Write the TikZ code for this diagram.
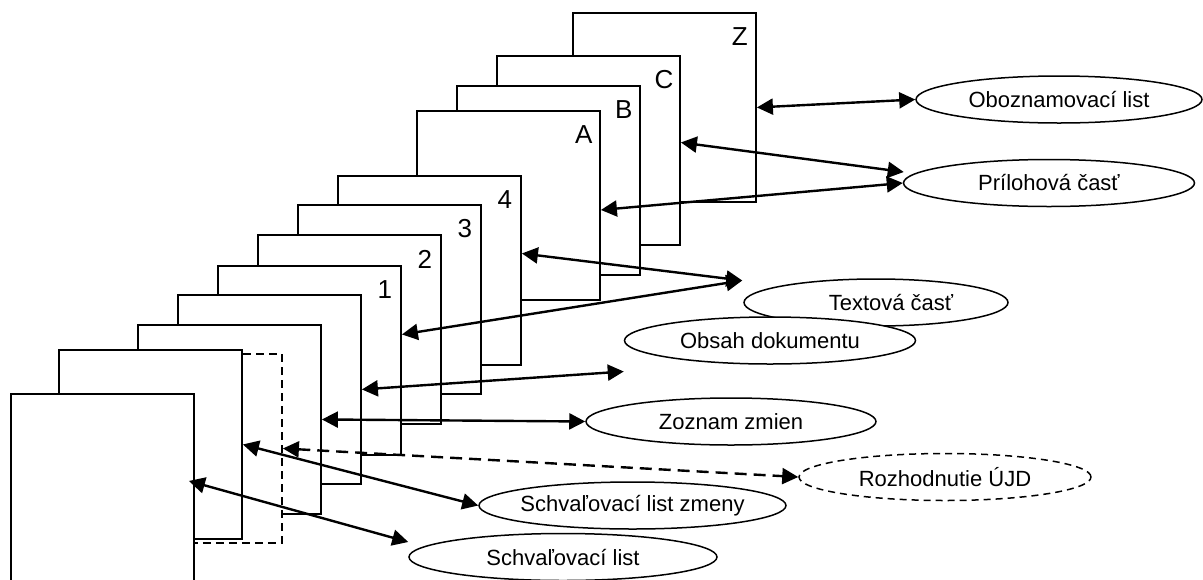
\documentclass[tikz,border=0pt]{standalone}
\usepackage{fontspec}
\setmainfont{Liberation Sans}
\usetikzlibrary{arrows.meta,shapes.geometric}
\tikzset{
  strana/.style={draw, fill=white, line width=1.9pt, minimum width=183pt, minimum height=189pt, inner sep=0pt, anchor=north west},
  cislo/.style={font=\fontsize{26}{30}\selectfont, inner sep=0pt},
  bublina/.style={draw, ellipse, fill=white, line width=1.5pt, inner sep=0pt, minimum height=47pt, font=\fontsize{22}{26}\selectfont},
  spoj/.style={<->, line width=2.4pt},
}
\begin{document}
\begin{tikzpicture}[x=1pt, y=-1pt, >={Triangle[length=16pt,width=16pt]}]
  \useasboundingbox (0,0) rectangle (1203,579);
  % listy dokumentu, od zadu dopredu
  \foreach \n/\x/\y in {Z/572/12, C/496/55, B/456/85, A/416/110, 4/337/175, 3/297/204, 2/257/234, 1/217/265} {
    \node[strana] (p\n) at (\x,\y) {};
    \node[cislo] (c\n) at ([shift={(-17,25)}]p\n.north east) {\n};
  }
  \node[strana] (pobs) at (177,294) {};
  \node[strana] (pzoz) at (137,324) {};
  \node[strana, dash pattern=on 8pt off 5pt] (proz) at (98,353) {};
  \node[strana] (pslz) at (58,349) {};
  \node[strana] (psl) at (10,393) {};
  % popisy
  \node[bublina, minimum width=286pt] (obl) at (1059,99.5) {Oboznamovací list};
  \node[bublina, minimum width=291pt] (pri) at (1049,183) {Prílohová časť};
  \node[bublina, minimum width=264pt] (txt) at (876,302.5) {\hspace{30pt}Textová časť};
  \node[bublina, minimum width=291pt] (obs) at (770,340.5) {Obsah dokumentu};
  \node[bublina, minimum width=290pt] (zoz) at (731,421.5) {Zoznam zmien};
  \node[bublina, minimum width=292pt, dash pattern=on 7pt off 5pt] (roz) at (945,477) {Rozhodnutie ÚJD};
  \node[bublina, minimum width=307pt] (slz) at (632.5,505.5) {\makebox[0pt]{Schvaľovací list zmeny}};
  \node[bublina, minimum width=308pt] (sl) at (563,557) {Schvaľovací list};
  \coordinate (txtin) at ([shift={(-1,-22)}]txt.west);
  \coordinate (obsin) at ([shift={(0,31)}]obs.west);
  % spojnice
  \draw[spoj] (pZ.east) -- (obl.west);
  \draw[spoj] ([shift={(0,-8)}]pC.east) -- ([shift={(1,-11)}]pri.west);
  \draw[spoj] ([shift={(0,4.5)}]pA.east) -- (pri.west);
  \draw[spoj] ([shift={(0,-17)}]p4.east) -- (txtin);
  \draw[spoj] ([shift={(0,-26)}]p1.east) -- (txtin);
  \draw[spoj] (pobs.east) -- (obsin);
  \draw[spoj] (pzoz.east) -- (zoz.west);
  \draw[spoj, dash pattern=on 12pt off 7pt] (proz.east) -- (roz.west);
  \draw[spoj] (pslz.east) -- (slz.west);
  \draw[spoj] ([shift={(-6,-7.5)}]psl.east) -- ([shift={(0,-15)}]sl.west);
\end{tikzpicture}
\end{document}
